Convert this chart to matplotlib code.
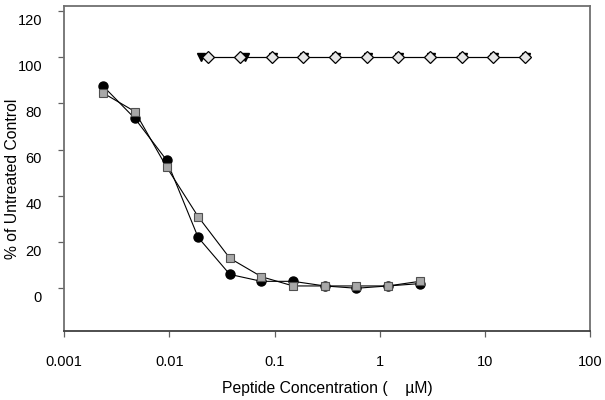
import numpy as np
import matplotlib
matplotlib.use("Agg")
import matplotlib.pyplot as plt
import matplotlib.transforms as mtransforms

plt.rcParams['font.family'] = ['Liberation Sans', 'DejaVu Sans']

# concentrations (uM)
conc_low = [0.00234, 0.00469, 0.00938, 0.01875, 0.0375, 0.075, 0.15, 0.3, 0.6, 1.2, 2.4]
circles = [87.5, 73.5, 55.5, 22, 6, 3, 3, 1, 0, 1, 2]
squares = [84.5, 76.5, 52.5, 31, 13, 5, 1, 1, 1, 1, 3]

conc_tri = [0.02, 0.052, 0.096, 0.192, 0.385, 0.77, 1.54, 3.08, 6.15, 12.3, 24.6]
triangles = [100] * 11
conc_dia = [0.0234, 0.0469, 0.0938, 0.1875, 0.375, 0.75, 1.5, 3.0, 6.0, 12.0, 24.0]
diamonds = [100] * 11

yticks = [0, 20, 40, 60, 80, 100, 120]
xticks = [0.001, 0.01, 0.1, 1, 10, 100]
xticklabels = ['0.001', '0.01', '0.1', '1', '10', '100']

fig = plt.figure(figsize=(6.05, 4.0), dpi=100)
ax = fig.add_axes([0.1063, 0.1725, 0.9752 - 0.1063, 0.984 - 0.1725])

ax.plot(conc_tri, triangles, color='black', lw=0.8, marker='v', ms=5.5,
        mfc='black', mec='black', zorder=2)
ax.plot(conc_dia, diamonds, color='black', lw=0.8, marker='D', ms=6.3,
        mfc='#e6e6e6', mec='black', mew=0.9, zorder=3)
ax.plot(conc_low, circles, color='black', lw=0.8, marker='o', ms=6.5,
        mfc='black', mec='black', zorder=3)
ax.plot(conc_low, squares, color='black', lw=0.8, marker='s', ms=5.5,
        mfc='#a8a8a8', mec='#505050', mew=0.8, zorder=4)

ax.set_xscale('log')
ax.set_xlim(0.001, 100)
ax.set_ylim(-18.5, 122)
ax.set_xticks(xticks)
ax.set_xticklabels(xticklabels)
ax.set_yticks(yticks)
ax.minorticks_off()

for s in ax.spines.values():
    s.set_color('#707070')
    s.set_linewidth(1.3)
ax.spines['bottom'].set_color('#404040')

ax.tick_params(axis='both', direction='out', length=4, width=0.9,
               color='#606060', labelsize=10.5)
ax.tick_params(axis='x', pad=13)
ax.tick_params(axis='y', pad=12)

# y tick labels sit a little below their ticks in the original
offset = mtransforms.ScaledTranslation(0, -8 / 100, fig.dpi_scale_trans)
for lab in ax.get_yticklabels():
    lab.set_transform(lab.get_transform() + offset)

ax.set_xlabel('Peptide Concentration (    \u00b5M)', fontsize=11.3)
ax.set_ylabel('% of Untreated Control', fontsize=11.3)
ax.xaxis.set_label_coords(0.5, -0.155)
ax.yaxis.set_label_coords(-0.084, 0.47)

fig.savefig('out.png', dpi=100)
